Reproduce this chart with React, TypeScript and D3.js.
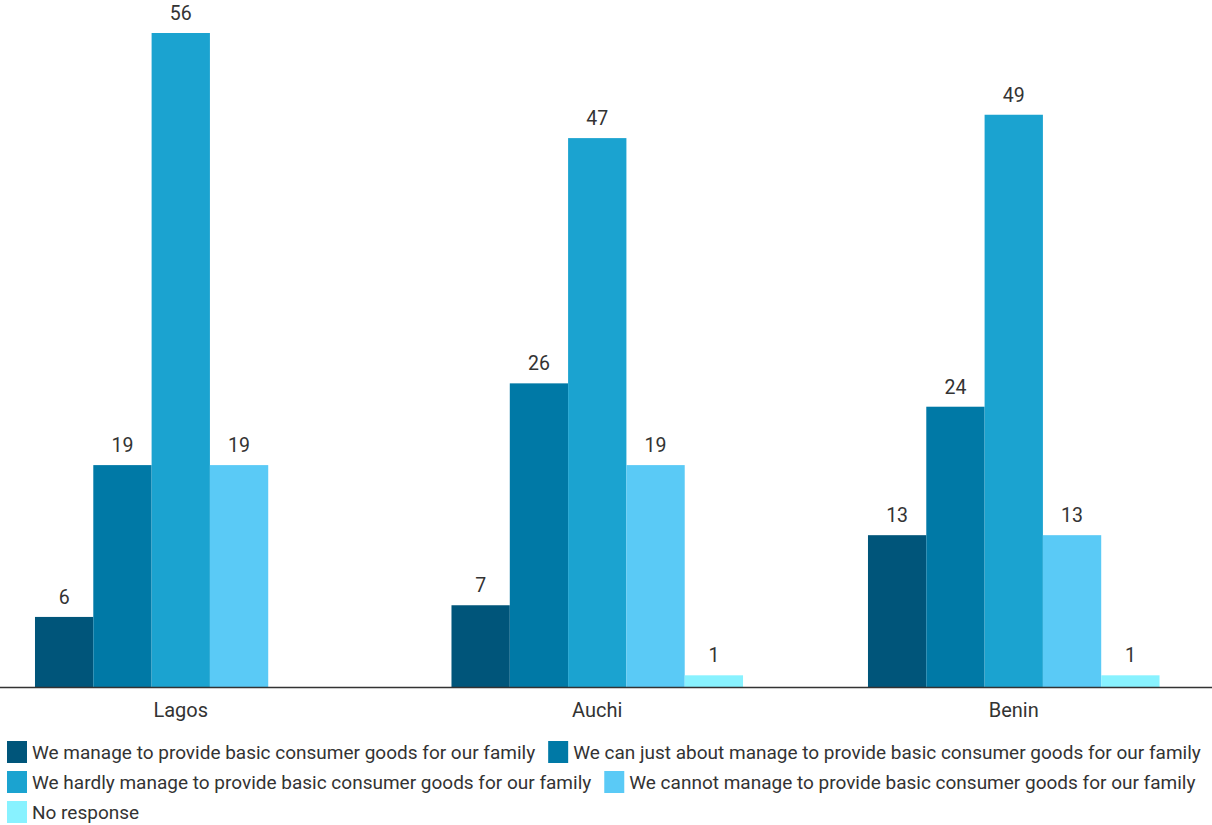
import React, { useEffect, useRef } from "react";
import * as d3 from "d3";

const groups = ["Lagos", "Auchi", "Benin"];
const seriesNames = [
  "We manage to provide basic consumer goods for our family",
  "We can just about manage to provide basic consumer goods for our family",
  "We hardly manage to provide basic consumer goods for our family",
  "We cannot manage to provide basic consumer goods for our family",
  "No response",
];
const colors = ["#00557a", "#0079a6", "#1ba3d0", "#5acaf6", "#88f2ff"];
const lagosValues = [6, 19, 56, 19, 0];
const auchiValues = [7, 26, 47, 19, 1];
const beninValues = [13, 24, 49, 13, 1];
const valuesByGroup = [lagosValues, auchiValues, beninValues];

const W = 1212;
const H = 825;
const FONT = "Roboto, 'Noto Sans', sans-serif";
const TEXT = "#333333";

export default function App() {
  const ref = useRef<SVGSVGElement | null>(null);

  useEffect(() => {
    const svg = d3.select(ref.current);
    svg.selectAll("*").remove();

    const baseY = 687;
    const y = d3.scaleLinear().domain([0, 56]).range([baseY, 33]);
    const x0 = d3
      .scaleBand<string>()
      .domain(groups)
      .range([0, W])
      .paddingInner(0.3)
      .paddingOuter(0.105)
      .align(0.4);
    const x1 = d3
      .scaleBand<string>()
      .domain(seriesNames)
      .range([0, x0.bandwidth()]);

    const g = svg.append("g");
    groups.forEach((grp, gi) => {
      const gg = g.append("g").attr("transform", `translate(${x0(grp)},0)`);
      const vals = valuesByGroup[gi];
      seriesNames.forEach((s, si) => {
        const v = vals[si];
        if (!v) return;
        gg.append("rect")
          .attr("x", x1(s)!)
          .attr("y", y(v))
          .attr("width", x1.bandwidth())
          .attr("height", baseY - y(v))
          .attr("fill", colors[si]);
        gg.append("text")
          .attr("x", x1(s)! + x1.bandwidth() / 2)
          .attr("y", y(v) - 13)
          .attr("text-anchor", "middle")
          .attr("font-family", FONT)
          .attr("font-size", 19.5)
          .attr("fill", TEXT)
          .text(String(v));
      });
      svg.append("text")
        .attr("x", x0(grp)! + x0.bandwidth() / 2)
        .attr("y", 717)
        .attr("text-anchor", "middle")
        .attr("font-family", FONT)
        .attr("font-size", 20)
        .attr("fill", TEXT)
        .text(grp);
    });

    svg.append("line")
      .attr("x1", 0)
      .attr("x2", W)
      .attr("y1", baseY + 0.5)
      .attr("y2", baseY + 0.5)
      .attr("stroke", "#333")
      .attr("stroke-width", 1.5);

    // legend flow layout
    const lg = svg.append("g");
    const rowYs = [752, 782, 812];
    let row = 0;
    let cx = 7;
    const maxX = 1211;
    seriesNames.forEach((s, si) => {
      const item = lg.append("g");
      item.append("rect")
        .attr("x", 0)
        .attr("y", -11)
        .attr("width", 20)
        .attr("height", 22)
        .attr("fill", colors[si]);
      const t = item.append("text")
        .attr("x", 25)
        .attr("y", 7)
        .attr("font-family", FONT)
        .attr("font-size", 19)
        .attr("fill", TEXT)
        .text(s);
      const tw = (t.node() as SVGTextElement).getComputedTextLength();
      const iw = 25 + tw;
      if (cx + iw > maxX && cx > 7) {
        row += 1;
        cx = 7;
      }
      item.attr("transform", `translate(${cx},${rowYs[row]})`);
      cx += iw + 13;
    });
  }, []);

  return (
    <svg
      ref={ref}
      width={W}
      height={H}
      style={{ position: "absolute", left: 0, top: 0, background: "#fff" }}
    />
  );
}
